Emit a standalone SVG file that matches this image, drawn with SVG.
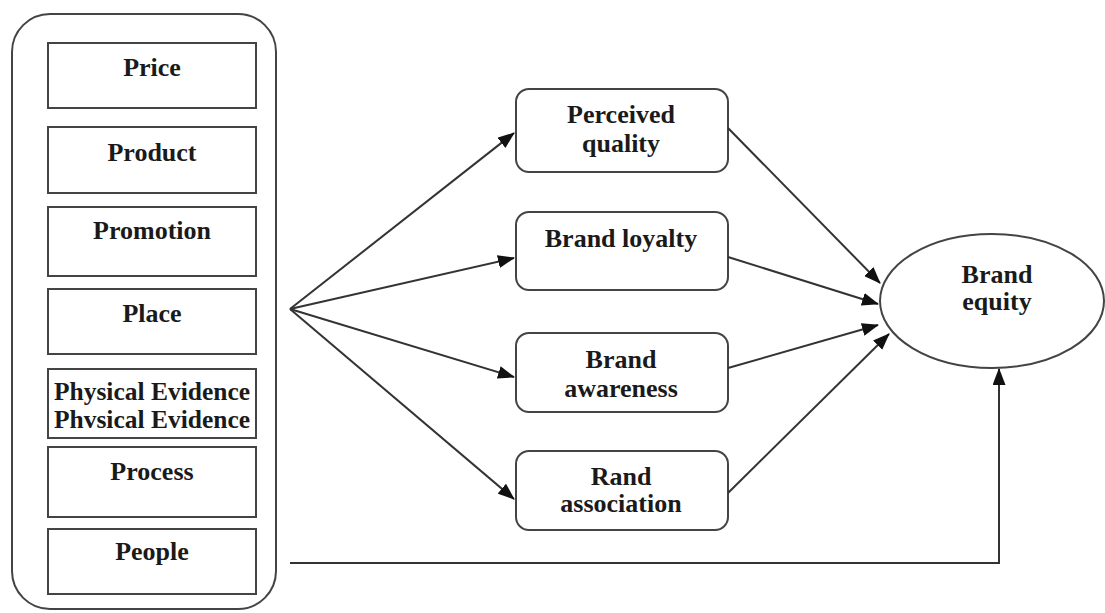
<svg xmlns="http://www.w3.org/2000/svg" width="1105" height="613" viewBox="0 0 1105 613">
<style>
.box{fill:#fff;stroke:#444;stroke-width:2}
.t{font-family:"Liberation Serif","Times New Roman",serif;font-weight:bold;font-size:26px;fill:#1a1a1a;text-anchor:middle}
.c{fill:none;stroke:#333;stroke-width:2}
</style>
<defs>
<marker id="ah" markerUnits="userSpaceOnUse" markerWidth="17" markerHeight="13" refX="16" refY="6.5" orient="auto">
<path d="M0,0 L17,6.5 L0,13 Z" fill="#111"/>
</marker>
</defs>
<rect width="1105" height="613" fill="#fff"/>
<g id="mix">
<rect class="box" x="12" y="14" width="264" height="595" rx="38"/>
<g id="price"><rect class="box" x="48" y="43" width="208" height="65"/><text class="t" x="152" y="76">Price</text></g>
<g id="product"><rect class="box" x="48" y="127" width="208" height="66"/><text class="t" x="152" y="161">Product</text></g>
<g id="promotion"><rect class="box" x="48" y="207" width="208" height="69"/><text class="t" x="152" y="239">Promotion</text></g>
<g id="place"><rect class="box" x="48" y="289" width="208" height="65"/><text class="t" x="152" y="322">Place</text></g>
<g id="physical"><rect class="box" x="48" y="369" width="208" height="69"/><text class="t" x="152" y="400" textLength="196" lengthAdjust="spacingAndGlyphs">Physical Evidence</text><text class="t" x="152" y="428" textLength="196" lengthAdjust="spacingAndGlyphs">Phvsical Evidence</text></g>
<g id="process"><rect class="box" x="48" y="447" width="208" height="70"/><text class="t" x="152" y="480">Process</text></g>
<g id="people"><rect class="box" x="48" y="529" width="208" height="65"/><text class="t" x="152" y="560">People</text></g>
</g>
<g id="perceived"><rect class="box" x="516" y="89" width="212" height="83" rx="13"/><text class="t" x="621" y="123">Perceived</text><text class="t" x="621" y="152">quality</text></g>
<g id="loyalty"><rect class="box" x="516" y="212" width="212" height="78" rx="13"/><text class="t" x="621" y="247">Brand loyalty</text></g>
<g id="awareness"><rect class="box" x="516" y="333" width="212" height="79" rx="13"/><text class="t" x="621" y="368">Brand</text><text class="t" x="621" y="397">awareness</text></g>
<g id="association"><rect class="box" x="516" y="451" width="212" height="79" rx="13"/><text class="t" x="621" y="485">Rand</text><text class="t" x="621" y="512">association</text></g>
<g id="equity"><ellipse class="box" cx="992" cy="301" rx="112" ry="67"/><text class="t" x="997" y="283">Brand</text><text class="t" x="997" y="310">equity</text></g>
<g id="connectors">
<line class="c" x1="290" y1="309" x2="514" y2="133" marker-end="url(#ah)"/>
<line class="c" x1="290" y1="309" x2="514" y2="258" marker-end="url(#ah)"/>
<line class="c" x1="290" y1="309" x2="514" y2="377" marker-end="url(#ah)"/>
<line class="c" x1="290" y1="309" x2="514" y2="499" marker-end="url(#ah)"/>
<line class="c" x1="728" y1="128" x2="880" y2="283" marker-end="url(#ah)"/>
<line class="c" x1="728" y1="257" x2="878" y2="304" marker-end="url(#ah)"/>
<line class="c" x1="728" y1="368" x2="878" y2="325" marker-end="url(#ah)"/>
<line class="c" x1="728" y1="493" x2="889" y2="334" marker-end="url(#ah)"/>
<polyline class="c" points="290,563 999,563 999,369" marker-end="url(#ah)"/>
</g>
</svg>
